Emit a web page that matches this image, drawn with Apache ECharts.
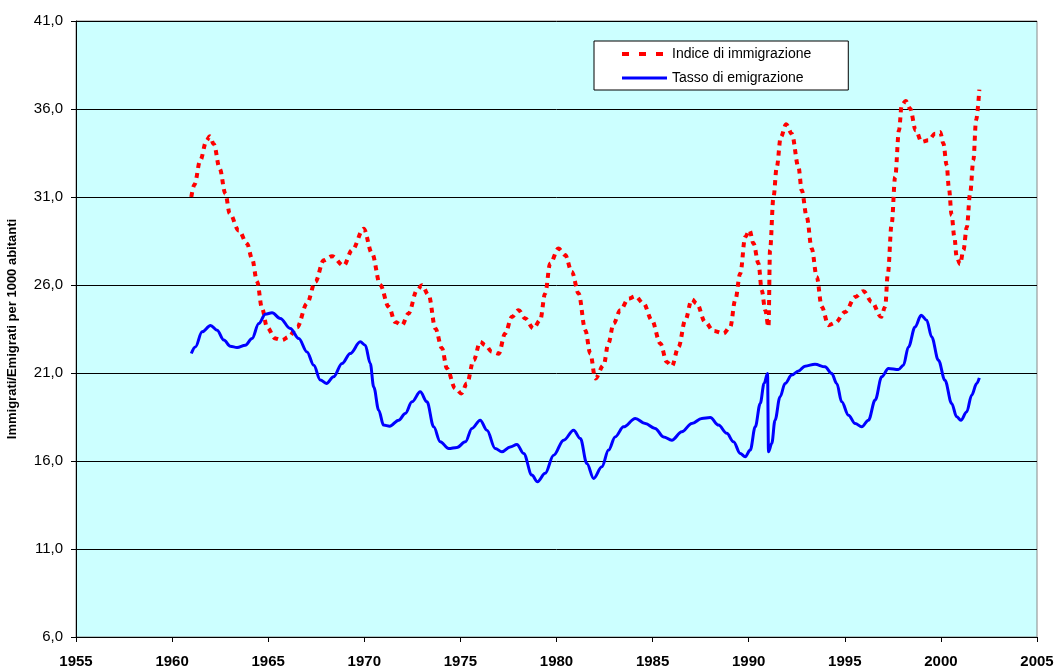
<!DOCTYPE html>
<html>
<head>
<meta charset="utf-8">
<script src="https://cdn.jsdelivr.net/npm/echarts@6/dist/echarts.min.js"></script>
<style>
html,body{margin:0;padding:0;background:#fff;}
#chart{width:1054px;height:666px;}
</style>
</head>
<body>
<div id="chart"></div>
<script>
// X-axis ticks (years) and Y-axis range
var xTicks = [1955, 1960, 1965, 1970, 1975, 1980, 1985, 1990, 1995, 2000, 2005];
var yTicks = [6, 11, 16, 21, 26, 31, 36, 41];

// Indice di immigrazione
var immYears = [1961.0,1961.16,1961.47,1961.79,1961.96,1962.17,1962.48,1962.77,1963.0,1963.47,1963.9,1964.16,1964.42,1964.68,1964.94,1965.37,1965.72,1966.07,1966.5,1967.02,1967.45,1967.89,1968.32,1968.93,1969.36,1969.97,1970.4,1970.83,1971.27,1971.61,1971.96,1972.3,1972.74,1973.0,1973.35,1973.7,1974.04,1974.3,1974.73,1975.05,1975.34,1975.69,1976.03,1976.3,1976.64,1976.99,1977.33,1977.68,1978.03,1978.37,1978.8,1979.15,1979.41,1979.67,1980.1,1980.45,1980.8,1981.15,1981.5,1981.76,1982.02,1982.45,1982.7,1982.97,1983.32,1983.75,1984.1,1984.53,1984.96,1985.4,1985.74,1986.0,1986.35,1986.7,1987.04,1987.3,1987.73,1988.17,1988.69,1989.04,1989.3,1989.56,1989.82,1990.04,1990.25,1990.51,1990.68,1990.86,1991.03,1991.11,1991.29,1991.46,1991.67,1991.95,1992.24,1992.59,1992.76,1993.02,1993.28,1993.54,1993.8,1994.15,1994.5,1995.02,1995.54,1995.97,1996.4,1996.89,1997.1,1997.24,1997.44,1997.62,1997.82,1997.96,1998.17,1998.4,1998.69,1999.0,1999.35,1999.7,1999.96,2000.13,2000.3,2000.42,2000.56,2000.7,2000.82,2001.0,2001.17,2001.35,2001.52,2001.69,2001.83,2002.0];
var immValues = [31.0,31.7,33.1,34.2,34.45,34.0,32.6,31.2,30.06,29.1,28.35,27.5,26.2,24.67,23.6,22.96,22.87,23.05,23.6,24.95,26.18,27.4,27.64,27.1,27.98,29.2,27.8,26.0,24.76,23.9,23.72,24.38,25.7,25.99,25.42,23.53,22.4,21.26,20.12,19.84,20.4,21.73,22.77,22.58,22.2,22.1,23.25,24.19,24.57,24.1,23.53,24.0,25.52,27.22,28.07,27.7,26.74,25.52,23.43,22.1,20.69,21.44,22.68,23.81,24.57,25.23,25.36,24.95,24.0,22.68,21.63,21.39,22.48,24.0,25.18,24.95,23.9,23.39,23.25,23.62,25.14,26.65,28.73,29.11,28.36,27.22,25.7,24.57,23.62,27.98,31.0,32.7,34.41,35.13,34.6,32.7,31.38,29.87,28.07,26.46,24.76,23.72,23.85,24.47,25.32,25.65,25.04,24.19,24.76,26.65,29.49,32.14,34.79,36.21,36.46,36.02,34.79,34.13,34.22,34.6,34.7,34.04,32.8,31.48,29.96,28.73,27.6,27.18,27.98,29.3,31.2,33.09,35.36,37.1];

// Tasso di emigrazione
var emiYears = [1961.0,1961.21,1961.56,1962.0,1962.34,1962.69,1963.03,1963.38,1963.81,1964.16,1964.51,1964.85,1965.2,1965.63,1966.15,1966.59,1967.02,1967.37,1967.71,1968.03,1968.4,1968.84,1969.27,1969.79,1970.05,1970.31,1970.49,1970.75,1971.0,1971.32,1971.79,1972.13,1972.48,1972.91,1973.26,1973.61,1973.95,1974.39,1974.82,1975.26,1975.6,1976.03,1976.38,1976.81,1977.16,1977.59,1977.94,1978.29,1978.72,1979.01,1979.41,1979.85,1980.37,1980.89,1981.24,1981.58,1981.93,1982.36,1982.71,1983.05,1983.49,1984.1,1984.62,1985.13,1985.57,1986.0,1986.52,1987.04,1987.56,1988.0,1988.43,1988.86,1989.21,1989.56,1989.82,1990.08,1990.34,1990.6,1990.8,1990.98,1991.03,1991.2,1991.37,1991.63,1991.89,1992.24,1992.59,1992.93,1993.45,1993.97,1994.32,1994.58,1994.84,1995.19,1995.54,1995.88,1996.23,1996.58,1996.92,1997.27,1997.79,1998.05,1998.31,1998.66,1998.97,1999.26,1999.52,1999.87,2000.21,2000.56,2000.82,2001.04,2001.34,2001.6,2001.86,2002.0];
var emiValues = [22.11,22.48,23.34,23.7,23.43,22.87,22.52,22.45,22.58,22.96,23.81,24.34,24.42,24.1,23.53,22.96,22.2,21.44,20.6,20.41,20.78,21.54,22.11,22.77,22.58,21.54,20.21,18.89,18.04,17.98,18.32,18.7,19.36,19.93,19.36,17.94,17.09,16.71,16.77,17.09,17.85,18.32,17.75,16.71,16.52,16.8,16.94,16.43,15.2,14.82,15.3,16.33,17.18,17.75,17.28,15.86,15.01,15.67,16.62,17.37,17.94,18.42,18.13,17.85,17.37,17.18,17.66,18.13,18.42,18.47,18.04,17.57,17.09,16.43,16.24,16.62,17.94,19.27,20.4,20.97,16.52,17.0,18.32,19.64,20.4,20.88,21.12,21.39,21.5,21.35,20.97,20.41,19.36,18.6,18.13,17.94,18.32,19.46,20.78,21.26,21.2,21.44,22.48,23.62,24.28,24.0,23.05,21.73,20.59,19.27,18.51,18.32,18.79,19.74,20.4,20.72];

var seriesNames = ['Indice di immigrazione', 'Tasso di emigrazione'];
var yAxisTitle = 'Immigrati/Emigrati per 1000 abitanti';

function pairs(xs, ys) { return xs.map(function (x, i) { return [x, ys[i]]; }); }

var chart = echarts.init(document.getElementById('chart'), null, {renderer: 'canvas'});
var font = '"Liberation Sans", Arial, sans-serif';
chart.setOption({
  animation: false,
  backgroundColor: '#ffffff',
  grid: {
    left: 76, right: 17, top: 21, bottom: 29,
    containLabel: false, outerBoundsMode: 'none',
    show: true, backgroundColor: '#CCFFFF', borderColor: '#888888', borderWidth: 1
  },
  legend: {
    orient: 'vertical',
    left: 594, top: 41,
    backgroundColor: '#ffffff',
    borderColor: '#000000', borderWidth: 1,
    padding: [6, 37, 5, 26],
    itemWidth: 45, itemHeight: 14, itemGap: 10,
    itemStyle: {opacity: 0},
    textStyle: {fontFamily: font, fontSize: 14, color: '#000'},
    data: [
      {name: seriesNames[0], lineStyle: {width: 4, type: [7, 10]}},
      {name: seriesNames[1], lineStyle: {width: 3}}
    ]
  },
  xAxis: {
    type: 'value', min: xTicks[0], max: xTicks[xTicks.length - 1], interval: 5,
    axisLine: {show: true, onZero: false, lineStyle: {color: '#000', width: 1}},
    axisTick: {show: true, length: 5, lineStyle: {color: '#000'}},
    axisLabel: {fontFamily: font, fontSize: 15, fontWeight: 'bold', color: '#000', margin: 17,
      formatter: function (v) { return String(v); }},
    splitLine: {show: false}
  },
  yAxis: {
    type: 'value', min: yTicks[0], max: yTicks[yTicks.length - 1], interval: 5,
    name: yAxisTitle, nameLocation: 'middle', nameGap: 57, nameRotate: 90,
    nameTextStyle: {fontFamily: font, fontSize: 13, fontWeight: 'bold', color: '#000'},
    axisLine: {show: true, lineStyle: {color: '#000', width: 1}},
    axisTick: {show: true, length: 5, lineStyle: {color: '#000'}},
    axisLabel: {fontFamily: font, fontSize: 15, color: '#000', margin: 13,
      formatter: function (v) { return v.toFixed(1).replace('.', ','); }},
    splitLine: {show: true, lineStyle: {color: '#000', width: 1}}
  },
  series: [
    {
      name: seriesNames[0], type: 'line', data: pairs(immYears, immValues),
      symbol: 'none', showSymbol: false, smooth: 0.35, smoothMonotone: 'x',
      color: '#FF0000',
      lineStyle: {color: '#FF0000', width: 4, type: [5, 5]},
      z: 3
    },
    {
      name: seriesNames[1], type: 'line', data: pairs(emiYears, emiValues),
      symbol: 'none', showSymbol: false, smooth: 0.35, smoothMonotone: 'x',
      color: '#0000FF',
      lineStyle: {color: '#0000FF', width: 3},
      z: 4
    }
  ]
});
</script>
</body>
</html>
